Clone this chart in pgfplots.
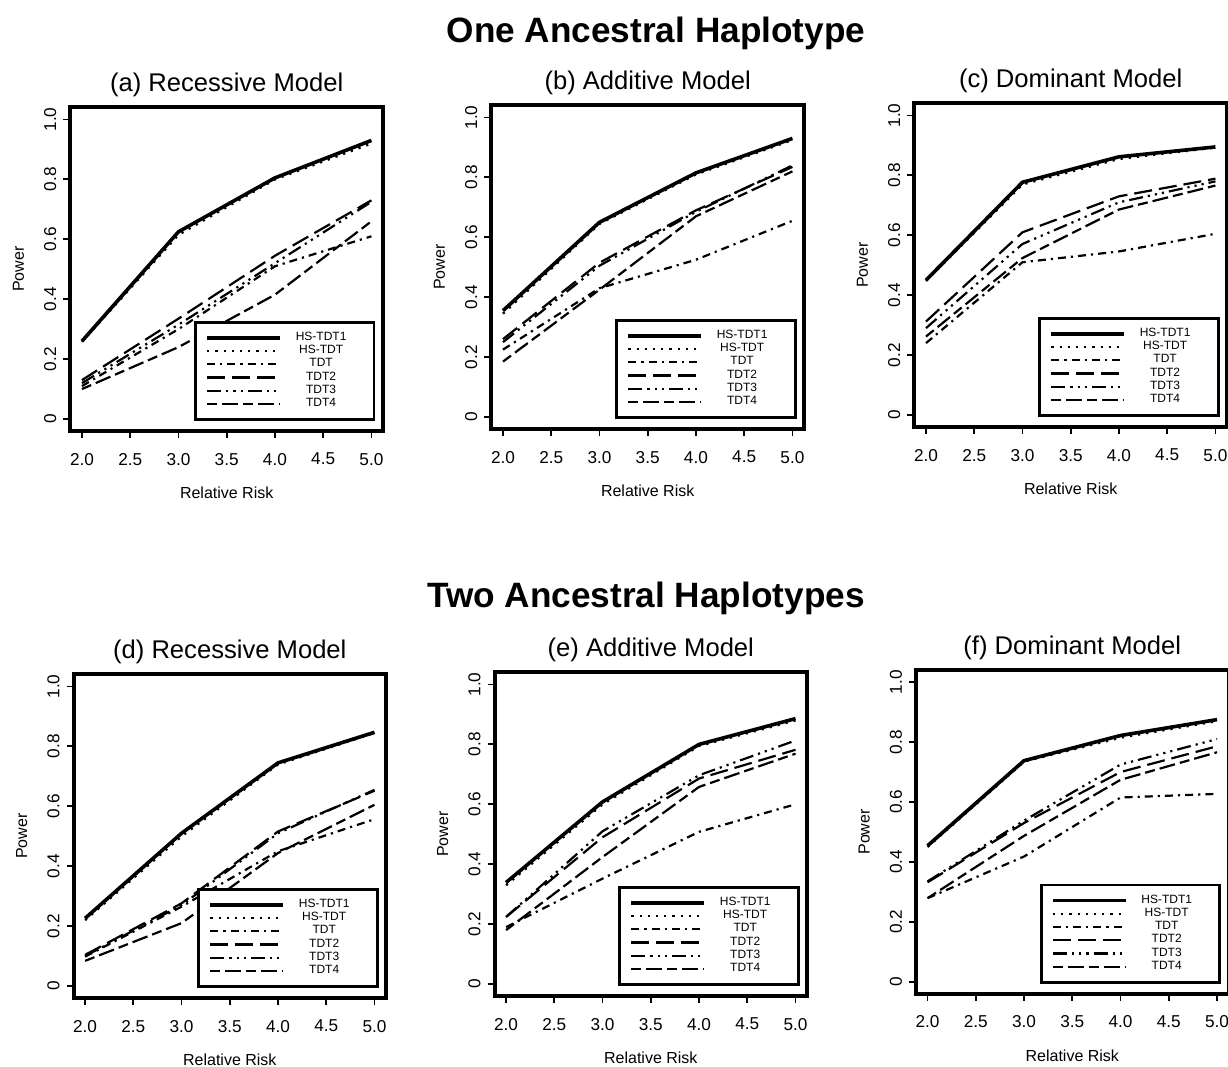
\documentclass[border=0pt]{standalone}
\usepackage{pgfplots}
\usepackage{pgfplotstable}
\usepackage{fontspec}
\setmainfont{Liberation Sans}
\pgfplotsset{compat=1.18}

% columns: x  HS-TDT1  HS-TDT  TDT  TDT2  TDT3  TDT4
\pgfplotstableread{
x h1 h t t2 t3 t4
2 0.260 0.258 0.110 0.130 0.120 0.100
3 0.625 0.615 0.300 0.335 0.315 0.240
4 0.805 0.800 0.510 0.545 0.520 0.415
5 0.930 0.920 0.610 0.730 0.725 0.660
}\tA
\pgfplotstableread{
x h1 h t t2 t3 t4
2 0.355 0.345 0.225 0.260 0.250 0.185
3 0.650 0.645 0.430 0.515 0.505 0.425
4 0.815 0.810 0.525 0.690 0.685 0.670
5 0.930 0.925 0.655 0.835 0.840 0.820
}\tB
\pgfplotstableread{
x h1 h t t2 t3 t4
2 0.450 0.448 0.240 0.312 0.290 0.262
3 0.777 0.770 0.510 0.610 0.571 0.524
4 0.862 0.855 0.546 0.730 0.710 0.686
5 0.895 0.893 0.605 0.789 0.780 0.766
}\tC
\pgfplotstableread{
x h1 h t t2 t3 t4
2 0.226 0.220 0.098 0.104 0.100 0.084
3 0.510 0.500 0.265 0.276 0.270 0.210
4 0.745 0.740 0.450 0.516 0.510 0.444
5 0.847 0.845 0.557 0.652 0.655 0.605
}\tD
\pgfplotstableread{
x h1 h t t2 t3 t4
2 0.339 0.330 0.190 0.224 0.224 0.180
3 0.608 0.600 0.352 0.490 0.510 0.424
4 0.800 0.795 0.508 0.686 0.697 0.658
5 0.886 0.880 0.600 0.782 0.813 0.769
}\tE
\pgfplotstableread{
x h1 h t t2 t3 t4
2 0.454 0.450 0.279 0.332 0.335 0.279
3 0.738 0.735 0.418 0.530 0.538 0.487
4 0.822 0.815 0.615 0.700 0.725 0.674
5 0.875 0.870 0.627 0.786 0.810 0.766
}\tF

\tikzset{
 s1/.style={black, line width=1.8pt},
 s2/.style={black, line width=1.2pt, dash pattern=on 1.1pt off 3pt},
 s3/.style={black, line width=1.1pt, dash pattern=on 4pt off 2.5pt on 1.1pt off 2.5pt},
 s4/.style={black, line width=1.1pt, dash pattern=on 9pt off 3.5pt},
 s5/.style={black, line width=1.1pt, dash pattern=on 7pt off 2.5pt on 1.1pt off 2.5pt on 1.1pt off 2.5pt on 1.1pt off 2.5pt},
 s6/.style={black, line width=1.1pt, dash pattern=on 5pt off 2.5pt on 8pt off 2.5pt},
}
\newcommand\lgd[1]{\makebox[39pt]{#1}\hspace*{2pt}}

\pgfplotsset{panel/.style={
  scale only axis, width=156.3pt, height=161.75pt,
  xmin=1.88, xmax=5.12, ymin=-0.04, ymax=1.04,
  xtick={2,2.5,3,3.5,4,4.5,5}, xticklabels={2.0,2.5,3.0,3.5,4.0,4.5,5.0},
  ytick={0,0.2,0.4,0.6,0.8,1}, yticklabels={0,0.2,0.4,0.6,0.8,1.0},
  tick align=outside, xtick pos=left, ytick pos=left,
  major tick length=3.5pt,
  every tick/.style={black, line width=0.9pt},
  axis line style={line width=2pt},
  tick label style={font=\fontsize{8.6}{10}\selectfont},
  /pgf/number format/assume math mode=true,
  yticklabel style={rotate=90, anchor=south},
  xticklabel style={yshift=-4pt},
  title style={font=\fontsize{12.8}{15}\selectfont, at={(0.5,1)}, anchor=base, yshift=2pt},
  xlabel={Relative Risk}, ylabel={Power},
  label style={font=\fontsize{8}{10}\selectfont},
  xlabel style={at={(axis description cs:0.5,-0.192)}, anchor=center},
  ylabel style={at={(axis description cs:-0.166,0.5)}, anchor=center},
  legend style={at={(0.976,0.031)}, anchor=south east, draw=black, line width=1.4pt,
    inner xsep=5pt, inner ysep=4.5pt, font=\fontsize{6}{6.6}\selectfont,
    nodes={inner sep=0pt, text height=4.6pt, text depth=2.0pt}, row sep=0pt},
  legend image code/.code={\draw[##1] (0pt,0pt) -- (36.5pt,0pt);},
}}

\newcommand\panelplots[1]{%
  \addplot[s1] table[x=x,y=h1] {#1};
  \addplot[s2] table[x=x,y=h] {#1};
  \addplot[s3] table[x=x,y=t] {#1};
  \addplot[s4] table[x=x,y=t2] {#1};
  \addplot[s5] table[x=x,y=t3] {#1};
  \addplot[s6] table[x=x,y=t4] {#1};
  \legend{\lgd{HS-TDT1},\lgd{HS-TDT},\lgd{TDT},\lgd{TDT2},\lgd{TDT3},\lgd{TDT4}}
}

\begin{document}
\begin{tikzpicture}
\useasboundingbox (0,0) rectangle (614pt,533.5pt);
\node[font=\fontsize{17.6}{20}\selectfont\bfseries] at (328pt,517pt) {One Ancestral Haplotype};
\node[font=\fontsize{17.6}{20}\selectfont\bfseries] at (323pt,234.5pt) {Two Ancestral Haplotypes};

\begin{axis}[panel, at={(35.2pt,318pt)}, anchor=south west, title={(a) Recessive Model}]
\panelplots{\tA}
\end{axis}
\begin{axis}[panel, at={(245.7pt,319pt)}, anchor=south west, title={(b) Additive Model}]
\panelplots{\tB}
\end{axis}
\begin{axis}[panel, at={(457.2pt,320pt)}, anchor=south west, title={(c) Dominant Model}]
\panelplots{\tC}
\end{axis}
\begin{axis}[panel, at={(36.75pt,34.5pt)}, anchor=south west, title={(d) Recessive Model}]
\panelplots{\tD}
\end{axis}
\begin{axis}[panel, at={(247.25pt,35.5pt)}, anchor=south west, title={(e) Additive Model}]
\panelplots{\tE}
\end{axis}
\begin{axis}[panel, at={(458pt,36.65pt)}, anchor=south west, title={(f) Dominant Model}]
\panelplots{\tF}
\end{axis}
\end{tikzpicture}
\end{document}
